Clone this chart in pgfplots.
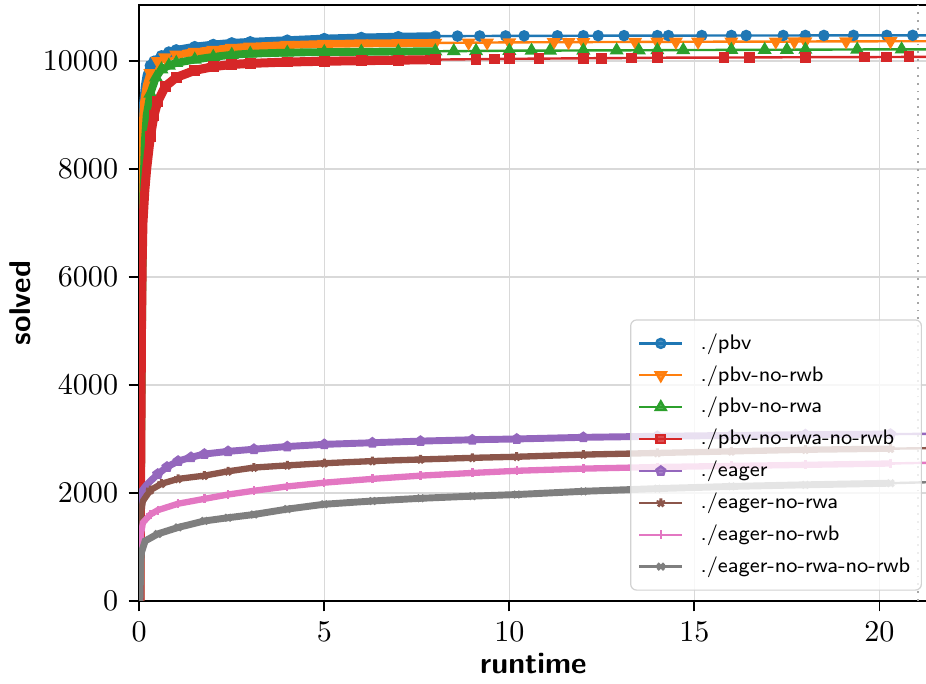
\documentclass[border=0pt]{standalone}
\usepackage{pgfplots}
\pgfplotsset{compat=1.18}
\usetikzlibrary{plotmarks, calc}

\definecolor{c0}{HTML}{1F77B4}
\definecolor{c1}{HTML}{FF7F0E}
\definecolor{c2}{HTML}{2CA02C}
\definecolor{c3}{HTML}{D62728}
\definecolor{c4}{HTML}{9467BD}
\definecolor{c5}{HTML}{8C564B}
\definecolor{c6}{HTML}{E377C2}
\definecolor{c7}{HTML}{7F7F7F}

\pgfplotstableread{
x y
0.01 0
0.02 4000
0.04 7000
0.07 8500
0.1 9200
0.15 9550
0.2 9750
0.3 9920
0.4 10000
0.6 10100
0.8 10170
1 10210
1.5 10270
2 10310
2.5 10340
3 10360
4 10390
5 10420
6 10440
7 10455
8 10465
8.6 10466
9.2 10468
9.9 10469
10.4 10470
11.3 10471
12 10472
12.4 10473
13.1 10474
14 10475
14.3 10475
15.2 10476
16 10477
16.4 10477
17.4 10477
18 10478
18.5 10478
19.3 10479
20.2 10479
20.9 10480
21.4 10480
}\pbv

\pgfplotstableread{
x y
0.01 0
0.025 3500
0.045 6500
0.07 8000
0.1 8900
0.13 9250
0.2 9550
0.3 9780
0.5 10000
0.7 10070
1 10120
1.5 10170
2 10210
2.5 10245
3 10270
4 10300
5 10320
6 10330
7 10335
8 10340
8.9 10343
9.4 10346
10 10350
11.2 10352
11.6 10353
12 10355
13.4 10358
14 10360
14.5 10360
15.1 10361
16 10363
17.2 10364
17.7 10365
18 10366
19.1 10368
20.3 10370
21.4 10370
}\pbvnorwb

\pgfplotstableread{
x y
0.03 0
0.05 2500
0.08 5500
0.11 7500
0.15 8500
0.2 9000
0.3 9400
0.45 9700
0.6 9850
0.8 9920
1 9970
1.5 10030
2 10080
2.5 10120
3 10140
4 10160
5 10170
6 10175
7 10180
8 10185
8.5 10187
9.1 10190
10 10195
10.6 10196
11.1 10197
12 10200
12.9 10202
13.5 10203
14 10205
14.7 10207
16 10210
16.9 10212
17.5 10213
18 10215
19.4 10218
20.6 10220
21.4 10220
}\pbvnorwa

\pgfplotstableread{
x y
0.02 0
0.04 2500
0.06 5000
0.08 6300
0.1 7000
0.15 7600
0.2 8000
0.3 8600
0.4 9000
0.5 9250
0.7 9530
1 9700
1.5 9830
2 9900
2.5 9940
3 9960
4 9985
5 10000
6 10010
7 10020
8 10030
9.1 10038
9.6 10041
10 10045
10.8 10048
12 10055
12.5 10057
13.3 10060
14 10065
15.8 10068
16.5 10070
18 10075
19.6 10077
20.2 10078
20.8 10080
21.4 10080
}\pbvnorwanorwb

\pgfplotstableread{
x y
0.01 0
0.02 1900
0.05 2020
0.2 2150
0.5 2350
0.75 2480
1.05 2590
1.4 2660
1.76 2720
2.4 2770
3.1 2810
4 2860
5 2900
6.3 2930
7.6 2960
9 2985
10.2 3000
12 3030
14 3050
16 3065
18 3080
20.3 3090
21.4 3095
}\eager

\pgfplotstableread{
x y
0.01 0
0.02 1350
0.06 1700
0.1 1850
0.3 2050
0.6 2170
1.05 2260
1.76 2320
2.4 2400
3.1 2470
4 2510
5 2550
6.3 2590
7.6 2620
9 2650
10.2 2670
12 2710
14 2740
16 2770
18 2800
20.3 2820
21.4 2830
}\eagernorwa

\pgfplotstableread{
x y
0.01 0
0.02 950
0.05 1250
0.1 1450
0.3 1600
0.5 1680
1.05 1800
1.76 1890
2.4 1970
3.1 2040
4 2120
5 2190
6.3 2260
7.6 2320
9 2370
10.2 2410
12 2450
14 2480
16 2500
18 2520
20.3 2545
21.4 2560
}\eagernorwb

\pgfplotstableread{
x y
0.02 0
0.04 700
0.06 900
0.16 1110
0.5 1240
1.05 1360
1.76 1480
2.4 1540
3.1 1600
4 1700
5 1790
6.3 1850
7.6 1900
9 1940
10.2 1970
12 2030
14 2080
16 2120
18 2150
20.3 2180
21.4 2200
}\eagernorwanorwb

\begin{document}
\begin{tikzpicture}
\begin{axis}[
  scale only axis,
  width=262pt, height=198pt,
  xmin=0, xmax=21.3, ymin=0, ymax=11040,
  xtick={0,5,10,15,20},
  ytick={0,2000,4000,6000,8000,10000},
  scaled y ticks=false,
  yticklabel style={/pgf/number format/1000 sep={}},
  grid=major, grid style={gray!30, line width=0.5pt},
  tick pos=left, tick align=outside, major tick length=3.5pt,
  tick style={black, line width=0.6pt},
  axis line style={line width=0.7pt},
  xlabel={\sffamily\bfseries runtime},
  ylabel={\sffamily\bfseries solved},
  xlabel style={yshift=3pt},
  ylabel style={yshift=-3pt},
  legend style={at={(0.993,0.017)}, anchor=south east,
    font=\sffamily\fontsize{7}{8}\selectfont, draw=gray!35, rounded corners=2pt,
    fill=white, fill opacity=0.8, text opacity=1, row sep=0pt, column sep=4.5pt,
    inner sep=2.5pt,
    nodes={text height=5.4pt, text depth=1.6pt, inner ysep=1.8pt, inner xsep=1.2pt}},
  legend cell align=left,
  legend image code/.code={\draw[mark repeat=2, mark phase=2, #1]
    plot coordinates {(0cm,0cm) (0.25cm,0cm) (0.5cm,0cm)};},
]

% dotted limit line
\addplot[gray!70, dotted, line width=0.6pt, forget plot]
  coordinates {(21.05,0) (21.05,11040)};

% pbv family: thick marker band at the start, then sparse marks
\addplot[c0, line width=2.6pt, forget plot, restrict x to domain=0:8] table {\pbv};
\addplot[c0, line width=0.8pt, mark=*, mark size=1.5pt, restrict x to domain=0.3:22] table {\pbv};
\addlegendentry{./pbv}

\addplot[c1, line width=2.6pt, forget plot, restrict x to domain=0:8] table {\pbvnorwb};
\addplot[c1, line width=0.8pt, mark=triangle*, mark size=1.9pt,
  mark options={rotate=180}, restrict x to domain=0.3:22] table {\pbvnorwb};
\addlegendentry{./pbv-no-rwb}

\addplot[c2, line width=2.6pt, forget plot, restrict x to domain=0:8] table {\pbvnorwa};
\addplot[c2, line width=0.8pt, mark=triangle*, mark size=1.9pt,
  restrict x to domain=0.3:22] table {\pbvnorwa};
\addlegendentry{./pbv-no-rwa}

\addplot[c3, line width=3pt, forget plot, restrict x to domain=0:8] table {\pbvnorwanorwb};
\addplot[c3, line width=0.8pt, mark=square*, mark size=1.4pt,
  restrict x to domain=0.3:22] table {\pbvnorwanorwb};
\addlegendentry{./pbv-no-rwa-no-rwb}

% eager family: dense markers all along, drawn as a band
\addplot[c4, line width=2.3pt, forget plot, restrict x to domain=0:20.3] table {\eager};
\addplot[c4, line width=0.8pt, mark=pentagon*, mark size=1.5pt,
  restrict x to domain=0.3:22] table {\eager};
\addlegendentry{./eager}

\addplot[c5, line width=2.1pt, forget plot, restrict x to domain=0:20.3] table {\eagernorwa};
\addplot[c5, line width=0.8pt, mark=star, mark size=1.5pt,
  mark options={line width=1pt}, restrict x to domain=0.3:22] table {\eagernorwa};
\addlegendentry{./eager-no-rwa}

\addplot[c6, line width=2.1pt, forget plot, restrict x to domain=0:20.3] table {\eagernorwb};
\addplot[c6, line width=0.8pt, mark=+, mark size=1.5pt,
  restrict x to domain=0.3:22] table {\eagernorwb};
\addlegendentry{./eager-no-rwb}

\addplot[c7, line width=2.3pt, forget plot, restrict x to domain=0:20.3] table {\eagernorwanorwb};
\addplot[c7, line width=0.8pt, mark=x, mark size=1.5pt,
  mark options={line width=1pt}, restrict x to domain=0.3:22] table {\eagernorwanorwb};
\addlegendentry{./eager-no-rwa-no-rwb}

\end{axis}
% the reference image is cut just before the right spine
\pgfresetboundingbox
\path[use as bounding box]
  (current axis.outer south west)
  rectangle ($(current axis.north east)+(-0.5pt,1.7pt)$);
\end{tikzpicture}
\end{document}
